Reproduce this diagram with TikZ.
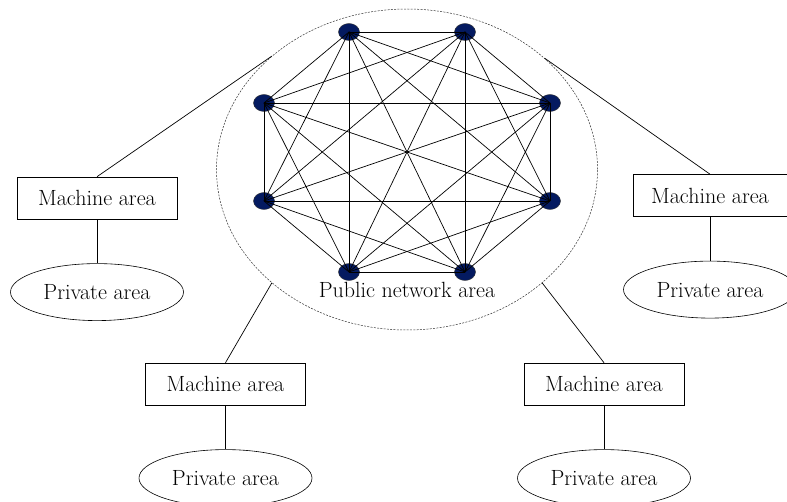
\documentclass[tikz,border=0pt]{standalone}
\usepackage{tikz}
\usetikzlibrary{positioning,shapes.geometric}
\definecolor{peerblue}{RGB}{4,26,96}

\begin{document}
\begin{tikzpicture}[x=1pt,y=1pt]
\tikzstyle{peer}=[ellipse, minimum width=21pt, minimum height=17pt, inner sep=0pt, fill=peerblue, draw=black!80, line width=0.4pt]
\tikzstyle{link}=[line width=0.7pt]
\tikzstyle{machine}=[rectangle, draw=black!100, line width=0.6pt, minimum width=160pt, minimum height=42pt, font=\fontsize{22}{26}\selectfont]
\tikzstyle{private}=[ellipse, draw=black!100, line width=0.6pt, minimum width=173pt, minimum height=57pt, node distance=44pt, font=\fontsize{22}{26}\selectfont]
\tikzstyle{area}=[ellipse, draw=black!80, line width=0.5pt, dash pattern=on 2pt off 1.3pt, minimum width=381pt, minimum height=321pt, inner sep=0pt]
\useasboundingbox (0,0) rectangle (787,501);
\clip (0,0) rectangle (787,501);
\node[area] (pub) at (407,331.5) {};
\node[font=\fontsize{22}{26}\selectfont] (publabel) at (407,211) {Public network area};
\node[peer] (a) at (349,469) {};
\node[peer] (b) at (465,469) {};
\node[peer] (c) at (264,398) {};
\node[peer] (d) at (550,398) {};
\node[peer] (e) at (264,300) {};
\node[peer] (f) at (550,300) {};
\node[peer] (g) at (349,229) {};
\node[peer] (h) at (465,229) {};
  \path (a.center) edge [link] (b.center) (a.center) edge [link] (c.center) (a.center) edge [link] (d.center)
  	(a.center) edge [link] (e.center) (a.center) edge [link] (f.center) (a.center) edge [link] (g.center)
  	(a.center) edge [link] (h.center)
  	(b.center) edge [link] (c.center) (b.center) edge [link] (d.center) (b.center) edge [link] (e.center)
  	(b.center) edge [link] (f.center) (b.center) edge [link] (g.center) (b.center) edge [link] (h.center)
  	(c.center) edge [link] (d.center) (c.center) edge [link] (e.center) (c.center) edge [link] (f.center)
  	(c.center) edge [link] (g.center) (c.center) edge [link] (h.center)
  	(d.center) edge [link] (e.center) (d.center) edge [link] (f.center) (d.center) edge [link] (g.center)
  	(d.center) edge [link] (h.center)
  	(e.center) edge [link] (f.center) (e.center) edge [link] (g.center) (e.center) edge [link] (h.center)
  	(f.center) edge [link] (g.center) (f.center) edge [link] (h.center)
  	(g.center) edge [link] (h.center);
\node[machine] (m1) at (97,303) {Machine area};
\node[machine, minimum width=154pt] (m2) at (710,305.5) {Machine area};
\node[machine] (m3) at (225.5,117) {Machine area};
\node[machine] (m4) at (604,117) {Machine area};
\node[private] (p1) [below= of m1] {Private area};
\node[private] (p2) [below= of m2] {Private area};
\node[private] (p3) [below= of m3] {Private area};
\node[private] (p4) [below= of m4] {Private area};
  \path (m1.north) edge [link] (pub.140.9)
  	(m2.north) edge [link] (pub.39.6)
  	(m3.north) edge [link] (pub.220.1)
  	(m4.north) edge [link] (pub.320.2)
  	(m1) edge [link] (p1) (m2) edge [link] (p2) (m3) edge [link] (p3) (m4) edge [link] (p4);
\end{tikzpicture}
\end{document}
